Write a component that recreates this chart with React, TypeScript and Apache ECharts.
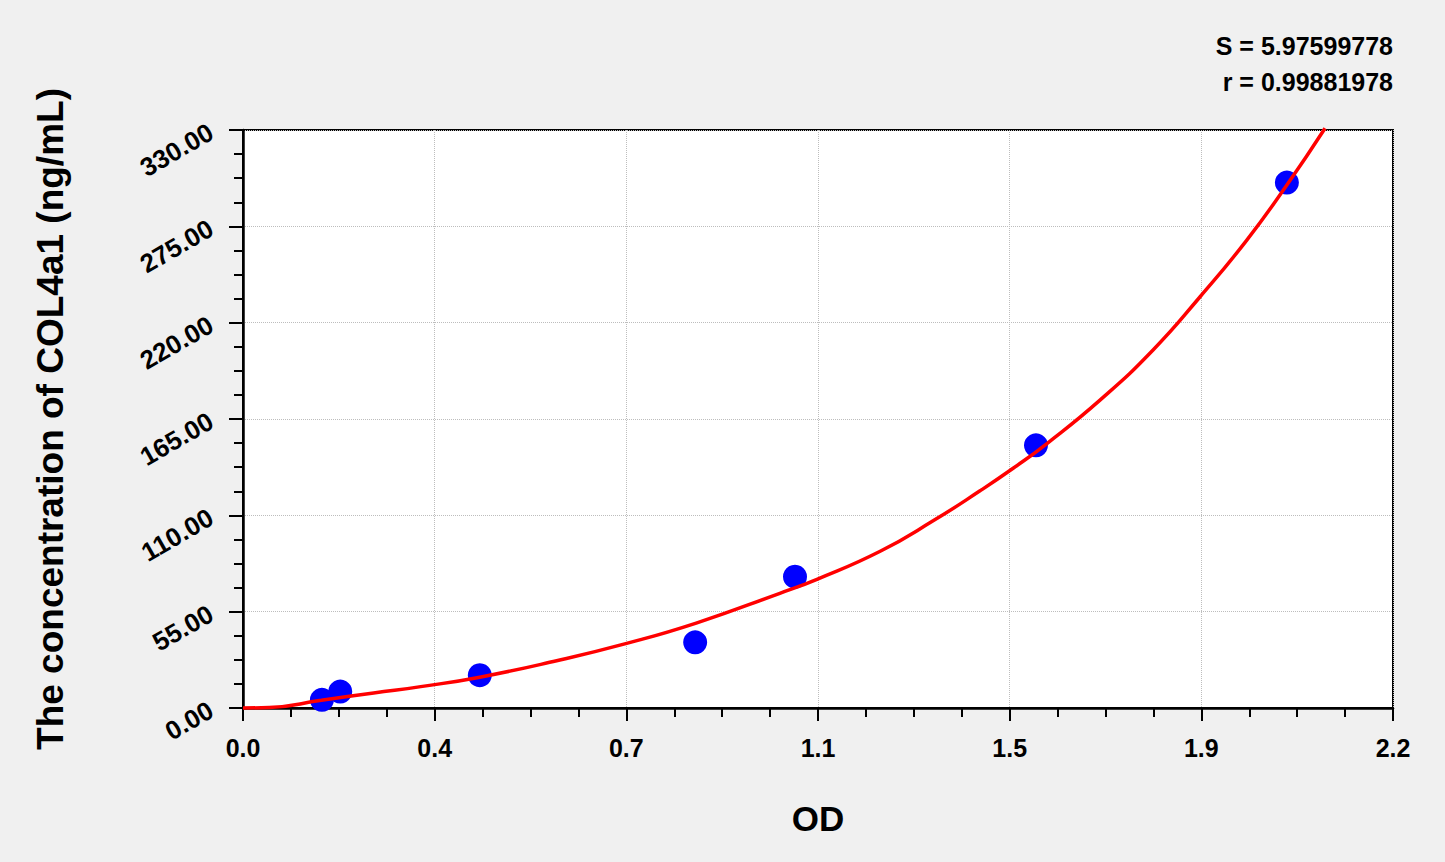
import React, { useEffect, useRef } from 'react';
import * as echarts from 'echarts';

// measured standards (OD vs concentration)
const odValues = [0.151, 0.186, 0.453, 0.865, 1.056, 1.517, 1.997];
const concValues = [4.69, 9.38, 18.75, 37.5, 75, 150, 300];

// fitted curve
const fitOD = [0, 0.05, 0.15, 0.25, 0.34, 0.453, 0.6, 0.734, 0.867, 1.027, 1.098, 1.219, 1.321, 1.41, 1.474, 1.538, 1.64, 1.741, 1.831, 1.92, 1.997, 2.07];
const fitConc = [0, 0.3, 4.4, 8.6, 12.2, 17.6, 27, 36.9, 48.5, 65.5, 73.5, 89.5, 107, 124, 137, 151, 175.9, 204.4, 234.8, 267, 298.6, 331];

const xTickLabels = ['0.0', '0.4', '0.7', '1.1', '1.5', '1.9', '2.2'];
const xMax = 2.2;
const xInterval = xMax / 6;
const yMax = 330;
const yInterval = 55;

const statLines = ['S = 5.97599778', 'r = 0.99881978'];

const FONT = 'Arial, "Liberation Sans", sans-serif';

export default function App() {
  const chartRef = useRef<HTMLDivElement>(null);

  useEffect(() => {
    if (!chartRef.current) return;
    const chart = echarts.init(chartRef.current, null, { renderer: 'svg' });

    const option: echarts.EChartsOption = {
      animation: false,
      backgroundColor: '#f0f0f0',
      textStyle: { fontFamily: FONT },
      grid: {
        left: 243,
        right: 52,
        top: 130,
        bottom: 154,
        show: true,
        backgroundColor: '#ffffff',
        borderColor: '#000000',
        borderWidth: 2
      },
      graphic: statLines.map((t, i) => ({
        type: 'text',
        right: 52,
        top: 33 + i * 36,
        style: {
          text: t,
          fill: '#000',
          font: `bold 25px ${FONT}`
        }
      })),
      xAxis: {
        type: 'value',
        min: 0,
        max: xMax,
        interval: xInterval,
        name: 'OD',
        nameLocation: 'middle',
        nameGap: 93,
        nameTextStyle: { fontSize: 35, fontWeight: 'bold', color: '#000', fontFamily: FONT },
        axisLine: { show: true, lineStyle: { color: '#000', width: 2.5 } },
        axisTick: { show: true, length: 13, lineStyle: { color: '#000', width: 2 } },
        minorTick: { show: true, splitNumber: 4, length: 9, lineStyle: { color: '#000', width: 2 } },
        axisLabel: {
          margin: 27,
          fontSize: 25,
          fontWeight: 'bold',
          color: '#000',
          fontFamily: FONT,
          formatter: (v: number) => xTickLabels[Math.round(v / xInterval)] ?? ''
        },
        splitLine: { show: true, lineStyle: { color: '#bdbdbd', type: 'dotted', width: 1 } }
      },
      yAxis: {
        type: 'value',
        min: 0,
        max: yMax,
        interval: yInterval,
        name: 'The concentration of COL4a1 (ng/mL)',
        nameLocation: 'middle',
        nameGap: 174,
        nameTextStyle: { fontSize: 37, fontWeight: 'bold', color: '#000', fontFamily: FONT },
        axisLine: { show: true, lineStyle: { color: '#000', width: 2.5 } },
        axisTick: { show: true, length: 14, lineStyle: { color: '#000', width: 2 } },
        minorTick: { show: true, splitNumber: 4, length: 9, lineStyle: { color: '#000', width: 2 } },
        axisLabel: {
          margin: 32,
          rotate: 30,
          fontSize: 26,
          fontWeight: 'bold',
          color: '#000',
          fontFamily: FONT,
          formatter: (v: number) => v.toFixed(2)
        },
        splitLine: { show: true, lineStyle: { color: '#bdbdbd', type: 'dotted', width: 1 } }
      },
      series: [
        {
          type: 'scatter',
          data: odValues.map((x, i) => [x, concValues[i]]),
          symbol: 'circle',
          symbolSize: 24,
          itemStyle: { color: '#0000ff', opacity: 1 },
          z: 2
        },
        {
          type: 'line',
          data: fitOD.map((x, i) => [x, fitConc[i]]),
          smooth: true,
          showSymbol: false,
          clip: false,
          lineStyle: { color: '#ff0000', width: 3.5 },
          z: 3
        }
      ]
    };

    chart.setOption(option);
    return () => {
      chart.dispose();
    };
  }, []);

  return (
    <div
      ref={chartRef}
      style={{ position: 'fixed', left: 0, top: 0, width: 1445, height: 862 }}
    />
  );
}
